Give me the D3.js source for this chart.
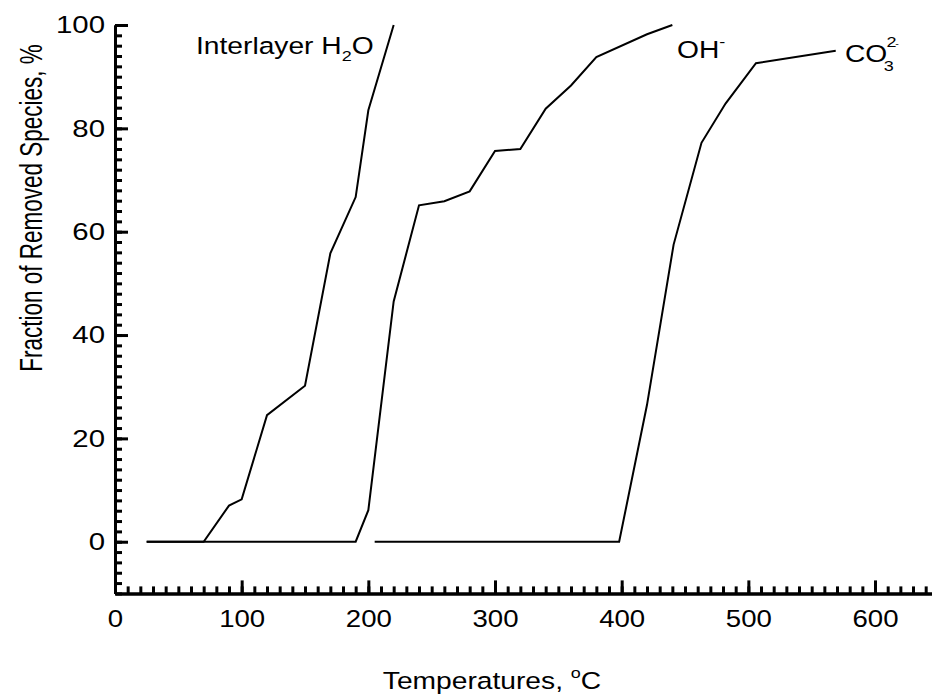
<!DOCTYPE html>
<html>
<head>
<meta charset="utf-8">
<script src="https://cdn.jsdelivr.net/npm/d3@7"></script>
<style>
  body { margin: 0; background: #fff; }
  text { font-family: "Liberation Sans", Arial, sans-serif; fill: #000; }
  .axis path, .axis line { stroke: #000; stroke-width: 3; }
  .curve { fill: none; stroke: #000; stroke-width: 2; }
</style>
</head>
<body>
<div id="chart-area"></div>
<script>

// DATA (temperature in degC, fraction removed in %)

var h2oTemp = [25, 70, 90, 100, 120, 150, 170, 190, 200, 220];
var h2oFrac = [0, 0, 7, 8.2, 24.5, 30.2, 55.8, 66.7, 83.5, 100];

var ohTemp = [25, 190, 200, 220, 240, 260, 280, 300, 320, 340, 360, 380, 420, 440];
var ohFrac = [0, 0, 6.1, 46.5, 65.1, 65.9, 67.8, 75.6, 76, 83.8, 88.3, 93.8, 98.2, 100];

var co3Temp = [205, 398, 420, 441, 463, 482, 506, 569];
var co3Frac = [0, 0, 26.5, 57.5, 77.2, 84.8, 92.6, 95];

var xMajorTicks = [0, 100, 200, 300, 400, 500, 600];
var yMajorTicks = [0, 20, 40, 60, 80, 100];


// CHART AREA

var W = 932, H = 698;
var margin = {left: 115, top: 25};
var stretch = 1.2;   // the original figure is wider than tall, text too

var svg = d3.select("#chart-area").append("svg")
    .attr("width", W)
    .attr("height", H);

var x = d3.scaleLinear()
    .domain([0, 650])
    .range([margin.left, margin.left + 650 * 1.2667]);

var y = d3.scaleLinear()
    .domain([-10, 100])
    .range([593.4, margin.top]);


// AXIS

// minor ticks first, major ticks on top
svg.append("g")
    .attr("class", "axis")
    .attr("transform", "translate(0," + y(-10) + ")")
    .call(d3.axisBottom(x).tickValues(d3.range(0, 651, 10)).tickSize(-7).tickSizeOuter(0).tickFormat(""));

var xAxisGroup = svg.append("g")
    .attr("class", "axis")
    .attr("transform", "translate(0," + y(-10) + ")")
    .call(d3.axisBottom(x).tickValues(xMajorTicks).tickSize(-13).tickSizeOuter(0).tickPadding(17));

svg.append("g")
    .attr("class", "axis")
    .attr("transform", "translate(" + x(0) + ",0)")
    .call(d3.axisLeft(y).tickValues(d3.range(-10, 101, 2)).tickSize(-7).tickSizeOuter(0).tickFormat(""));

var yAxisGroup = svg.append("g")
    .attr("class", "axis")
    .attr("transform", "translate(" + x(0) + ",0)")
    .call(d3.axisLeft(y).tickValues(yMajorTicks).tickSize(-13).tickSizeOuter(0).tickPadding(10));

svg.selectAll(".axis text")
    .style("font-family", "'Liberation Sans', Arial, sans-serif")
    .style("font-size", "23px")
    .attr("fill", "#000");
yAxisGroup.selectAll("text").style("font-size", "24.5px");

// widen tick labels like the original
xAxisGroup.selectAll("text").attr("transform", "scale(" + stretch + ",1)");
yAxisGroup.selectAll(".tick text").each(function() {
    var t = d3.select(this), tx = +t.attr("x");
    t.attr("x", tx / stretch).attr("transform", "scale(" + stretch + ",1)");
});


// ---- DRAW CURVES ----

var line = d3.line()
    .x(function(d) { return x(d[0]); })
    .y(function(d) { return y(d[1]); });

[[h2oTemp, h2oFrac], [ohTemp, ohFrac], [co3Temp, co3Frac]].forEach(function(s) {
    svg.append("path")
        .attr("class", "curve")
        .attr("d", line(d3.zip(s[0], s[1])));
});


// ---- LABELS ----

function label(px, py, extra, sx) {
    return svg.append("text")
        .attr("transform", "translate(" + px + "," + py + ") scale(" + (sx || stretch) + ",1)" + (extra || ""))
        .style("font-size", "23.5px");
}

var lab = label(196, 54);
lab.append("tspan").text("Interlayer H");
lab.append("tspan").attr("dy", 7).style("font-size", "15px").text("2");
lab.append("tspan").attr("dy", -7).text("O");

lab = label(677, 58);
lab.append("tspan").text("OH");
lab.append("tspan").attr("dy", -11).style("font-size", "15px").text("-");

lab = label(845, 62);
lab.append("tspan").text("CO");
lab.append("tspan").attr("dy", 9).attr("dx", -3).style("font-size", "15px").text("3");
lab.append("tspan").attr("dy", -24).attr("dx", -6).style("font-size", "15px").text("2");
lab.append("tspan").attr("dx", -1).style("font-size", "9px").text("-");

lab = label(492, 689).attr("text-anchor", "middle");
lab.append("tspan").text("Temperatures, ");
lab.append("tspan").attr("dy", -11).style("font-size", "15px").text("o");
lab.append("tspan").attr("dy", 11).text("C");

label(42, 208, " rotate(-90)", 1.4)
    .attr("text-anchor", "middle")
    .style("font-size", "22.5px")
    .text("Fraction of Removed Species, %");

</script>
</body>
</html>
